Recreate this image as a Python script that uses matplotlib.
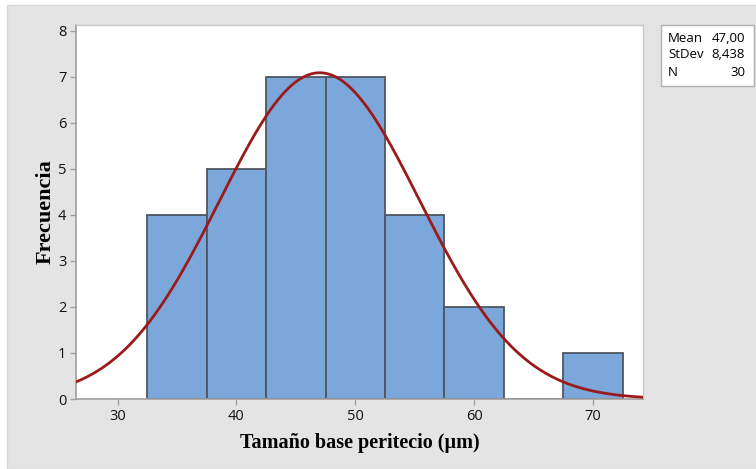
import numpy as np
import matplotlib.pyplot as plt
import matplotlib.patches as patches

# Histogram data (bin midpoints and counts)
bin_centers = [35, 40, 45, 50, 55, 60, 65, 70]
counts = [4, 5, 7, 7, 4, 2, 0, 1]
bin_width = 5

# Fitted normal summary
mean = 47.00
stdev = 8.438
n = 30

x_ticks = [30, 40, 50, 60, 70]
y_ticks = [0, 1, 2, 3, 4, 5, 6, 7, 8]

fig = plt.figure(figsize=(7.56, 4.69), dpi=100)
fig.patch.set_facecolor('white')

# Gray panel behind everything
panel = patches.Rectangle((7 / 756, 0), 1, 1 - 5 / 469, transform=fig.transFigure,
                          facecolor='#e4e4e4', edgecolor='#d6d6d6', linewidth=1, zorder=-5)
fig.patches.append(panel)

ax = fig.add_axes([76 / 756, 1 - 399 / 469, 567 / 756, 374 / 469])
ax.set_zorder(2)
ax.set_facecolor('white')

ax.bar(bin_centers, counts, width=bin_width, color='#7ba7da', edgecolor='#4f5660',
       linewidth=1.3, zorder=2)

xs = np.linspace(26.5, 74.2, 400)
pdf = n * bin_width * np.exp(-0.5 * ((xs - mean) / stdev) ** 2) / (stdev * np.sqrt(2 * np.pi))
ax.plot(xs, pdf, color='#9b1b1b', linewidth=2, zorder=3)

ax.set_xlim(26.5, 74.2)
ax.set_ylim(0, 8.13)
ax.set_xticks(x_ticks)
ax.set_yticks(y_ticks)

for side in ['left', 'bottom']:
    ax.spines[side].set_color('#a0a0a0')
    ax.spines[side].set_linewidth(1.2)
for side in ['top', 'right']:
    ax.spines[side].set_color('#c8c8c8')
    ax.spines[side].set_linewidth(1)

ax.tick_params(direction='out', length=4, width=1, color='#a0a0a0',
               labelsize=10.5, labelcolor='#111111', pad=3)
for lbl in ax.get_xticklabels() + ax.get_yticklabels():
    lbl.set_fontfamily('Open Sans')

ax.set_xlabel('Tamaño base peritecio (µm)', fontfamily='Liberation Serif',
              fontweight='bold', fontsize=14.5, labelpad=7)
ax.set_ylabel('Frecuencia', fontfamily='Liberation Serif',
              fontweight='bold', fontsize=16, labelpad=1.5)

# Stats box
box = patches.Rectangle((661 / 756, 1 - 86 / 469), 93 / 756, 61 / 469,
                        transform=fig.transFigure, facecolor='white',
                        edgecolor='#b0b0b0', linewidth=1, zorder=1)
fig.patches.append(box)
rows = [('Mean', '47,00'), ('StDev', '8,438'), ('N', '30')]
for i, (k, v) in enumerate(rows):
    yy = 1 - (38 + i * 17) / 469
    fig.text(668 / 756, yy, k, fontfamily='Open Sans', fontsize=9.5, va='center', ha='left')
    fig.text(745 / 756, yy, v, fontfamily='Open Sans', fontsize=9.5, va='center', ha='right')

fig.savefig('out.png', dpi=100)
